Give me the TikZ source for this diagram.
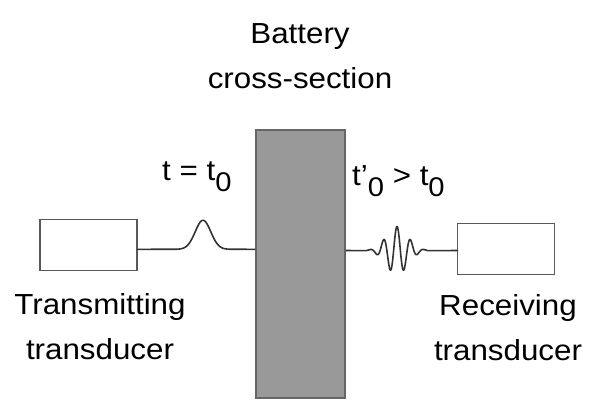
\documentclass[tikz,border=0pt]{standalone}
\usepackage{fontspec}
\setmainfont[FakeStretch=1.08]{Liberation Sans}
\begin{document}
\begin{tikzpicture}[x=1pt,y=-1pt,
  lbl/.style={font=\fontsize{29}{45}\selectfont, text=black, inner sep=0pt, align=center},
  tbox/.style={draw=black!65, line width=1.4pt, fill=white, minimum width=97pt, minimum height=51pt, inner sep=0pt},
  wave/.style={draw=black!80, line width=1.6pt, line join=round},
  batt/.style={draw=black!60, line width=1.4pt, fill=black!40, minimum width=89pt, minimum height=268pt, inner sep=0pt}]
\newcommand{\subz}{\raisebox{-0.4em}{\fontsize{27}{27}\selectfont 0}}
\useasboundingbox (0,0) rectangle (604,410);
\node[batt] (bat) at (300.5,264) {};
\node[tbox] (tx) at (88.5,245) {};
\node[tbox] (rx) at (506,248.7) {};
\coordinate (l1) at (137,249.3);
\coordinate (r1) at (458,250.5);
\draw[wave] (l1) -- plot[domain=173:233,samples=80] (\x,{249.3-29*exp(-((\x-203)/11)^2)}) -- (l1 -| bat.west);
\draw[wave] (r1 -| bat.east) -- plot[domain=365:430,samples=200] (\x,{250.5-24*exp(-((\x-397)/15)^2)*cos(360*(\x-397)/13.5)}) -- (r1);
\node[lbl] (btext) at (300,56) {Battery\\cross-section};
\node[lbl, anchor=base west] (t0) at (162,180) {t = t\subz};
\node[lbl, anchor=base west] (t1) at (352,185) {t’\subz{} > t\subz};
\node[lbl] (txt) at (100,327) {Transmitting\\transducer};
\node[lbl] (rxt) at (508,328) {Receiving\\transducer};
\end{tikzpicture}
\end{document}
